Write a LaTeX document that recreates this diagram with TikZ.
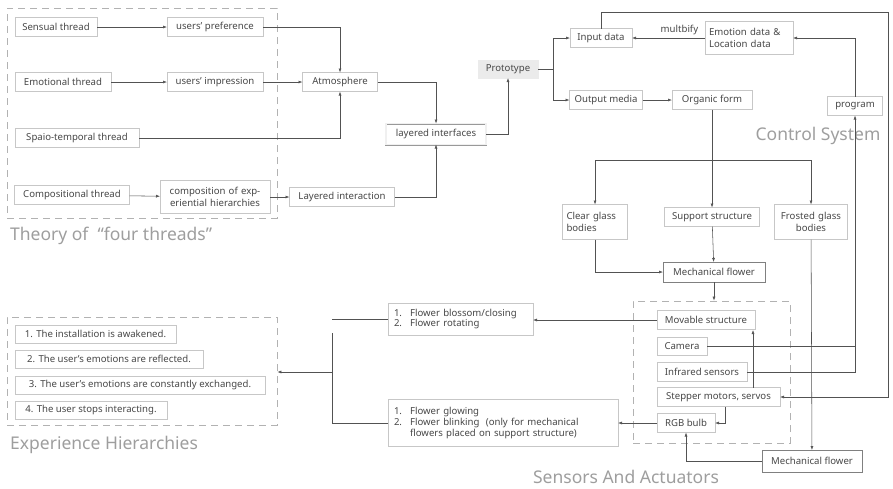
\documentclass[tikz,border=0pt]{standalone}
\usepackage{fontspec}
\setmainfont{Noto Sans}
\usetikzlibrary{arrows.meta}

\begin{document}
\begin{tikzpicture}[
  x = 1pt, y = -1pt,
  box/.style = {
    shape = rectangle,
    draw = black!22,
    fill = white,
    text = black!72,
    font = \fontsize{9.6}{12}\selectfont,
    minimum height = 19pt,
    inner xsep = 4pt,
    inner ysep = 2pt,
    outer sep = 0pt,
  },
  darkbox/.style = {box, draw = black!50},
  group/.style = {
    draw = black!30,
    dash pattern = on 7pt off 5pt,
    line width = 0.8pt,
    inner sep = 0pt,
  },
  heading/.style = {
    text = black!38,
    font = \fontsize{17.5}{20}\selectfont,
    inner sep = 0pt,
  }
]
  \useasboundingbox (0, 0) rectangle (893, 488);

  % dashed groups
  \node[group, minimum width = 270pt, minimum height = 210pt] (threads) at (142, 113) {};
  \node[group, minimum width = 157pt, minimum height = 142pt] (sensors) at (711.5, 372) {};
  \node[group, minimum width = 270pt, minimum height = 108pt] (levels) at (142, 371) {};

  \node[heading, anchor = west] (tthreads) at (10, 236) {Theory of\hspace{9pt}“four threads”};
  \node[heading] (tcontrol) at (818, 136) {Control System};
  \node[heading, anchor = west] (tlevels) at (10, 445) {Experience Hierarchies};
  \node[heading] (tsensors) at (626, 477) {Sensors And Actuators};

  % four threads
  \node[box, minimum width = 82pt] (sensual) at (56, 27) {Sensual thread};
  \node[box, minimum width = 96pt] (pref) at (215, 27) {users' preference};
  \node[box, minimum width = 96pt] (emotional) at (63, 82) {Emotional thread};
  \node[box, minimum width = 96pt] (impr) at (215, 82) {users' impression};
  \node[box, minimum width = 75pt] (atmos) at (340, 82) {Atmosphere};
  \node[box, minimum width = 124pt] (spatio) at (77, 138) {Spaio-temporal thread};
  \node[box, minimum width = 115pt] (compos) at (72, 195) {Compositional thread};
  \node[box, text width = 102pt, minimum height = 33pt, align = center]
    (hier) at (215, 197) {composition of exp-\\eriential hierarchies};
  \node[box, minimum width = 105pt] (linter) at (342, 197) {Layered interaction};
  \node[box, minimum width = 100pt, minimum height = 21pt, draw = black!40,
    double = black!6, double distance = 1.2pt] (lface) at (436, 134) {layered interfaces};

  % control system
  \node[box, draw = black!8, fill = black!8, minimum width = 60pt, minimum height = 18pt]
    (proto) at (508, 69) {Prototype};
  \node[box, minimum width = 62pt] (input) at (601, 38) {Input data};
  \node[box, minimum width = 73pt] (output) at (606, 100) {Output media};
  \node[box, minimum width = 80pt] (organic) at (712, 100) {Organic form};
  \node[box, text width = 80pt, minimum height = 33pt, align = left]
    (edata) at (749, 38) {Emotion data \&\\Location data};
  \node[box, minimum width = 55pt] (prog) at (855, 106) {program};

  \node[box, text width = 57pt, minimum height = 35pt, align = left]
    (clear) at (595, 222) {Clear glass\\bodies};
  \node[box, minimum width = 95pt] (support) at (712, 217) {Support structure};
  \node[box, text width = 65pt, minimum height = 35pt, align = center]
    (frosted) at (811, 222) {Frosted glass\\bodies};
  \node[darkbox, minimum width = 102pt, minimum height = 20pt] (mflower) at (714, 272) {Mechanical flower};

  % sensors and actuators
  \node[box, minimum width = 98pt, anchor = west] (movable) at (657, 320) {Movable structure};
  \node[box, minimum width = 50pt, minimum height = 18pt, anchor = west] (camera) at (657, 346) {Camera};
  \node[box, minimum width = 90pt, anchor = west] (infra) at (657, 372) {Infrared sensors};
  \node[box, minimum width = 123pt, anchor = west] (stepper) at (657, 397) {Stepper motors, servos};
  \node[box, minimum width = 58pt, anchor = west] (rgb) at (657, 423) {RGB bulb};
  \node[darkbox, minimum width = 100pt, minimum height = 22pt] (mflower2) at (812, 461) {Mechanical flower};

  \node[box, text width = 137pt, minimum height = 32pt, anchor = west, align = left]
    (blossom) at (388, 319) {%
      \begin{tabular}{@{\hspace{2pt}}l@{\hspace{8pt}}l@{}}
        1. & Flower blossom/closing \\[-2pt]
        2. & Flower rotating
      \end{tabular}};
  \node[box, text width = 222pt, minimum height = 47pt, anchor = west, align = left]
    (glowing) at (388, 423) {%
      \begin{tabular}{@{\hspace{2pt}}l@{\hspace{8pt}}l@{}}
        1. & Flower glowing \\[-1pt]
        2. & Flower blinking\ \ (only for mechanical \\[-1pt]
           & flowers placed on support structure)
      \end{tabular}};

  % experience hierarchies
  \node[box, minimum width = 161pt, minimum height = 18pt, anchor = west] (lv1) at (15, 334) {1. The installation is awakened.};
  \node[box, minimum width = 188pt, minimum height = 18pt, anchor = west] (lv2) at (15, 359) {2. The user's emotions are reflected.};
  \node[box, minimum width = 250pt, minimum height = 18pt, anchor = west] (lv3) at (15, 385) {3. The user's emotions are constantly exchanged.};
  \node[box, minimum width = 152pt, minimum height = 18pt, anchor = west] (lv4) at (15, 410) {4. The user stops interacting.};

  % corners and joints of the connectors
  \coordinate (split) at (553, 69);
  \coordinate (loop) at (888, 12);
  \coordinate (fork) at (712, 160);
  \coordinate (lift) at (753, 330);
  \coordinate (drop) at (725, 407);
  \coordinate (jtop) at (332, 319);
  \coordinate (jvert) at (332, 333);
  \coordinate (jmid) at (332, 372);

  \begin{scope}[
    every path/.style = {draw = black!68, line width = 0.55pt},
    arr/.style = {-{Latex[length = 4pt, width = 3pt]}}
  ]
    \draw[arr] (sensual) -- (pref);
    \draw[arr] (emotional) -- (impr);
    \draw[arr] (impr) -- (atmos);
    \draw[arr] (pref) -| (atmos);
    \draw[arr] (spatio) -| (atmos);
    \draw[arr] (compos) -- (hier);
    \draw[arr] (hier) -- (linter);
    \draw[arr] (atmos) -| (lface);
    \draw[arr] (linter) -| (lface);
    \draw[arr] (lface) -| (proto);

    \draw (proto) -- (split);
    \draw[arr] (split) |- (input);
    \draw[arr] (split) |- (output);
    \draw[arr] (output) -- (organic);
    \draw[arr] (edata) -- node[pos = 0.35, above = 3pt, inner sep = 0pt, text = black!72,
      font = \fontsize{9.6}{12}\selectfont] (mult) {multbify} (input);
    \draw[arr] (prog) |- (edata);
    \draw[arr] (input.north) |- (loop) |- (stepper);

    \draw (organic) -- (fork);
    \draw[arr] (fork) -| (clear);
    \draw[arr] (fork) -- (support);
    \draw[arr] (fork) -| (frosted);
    \draw[arr] (clear) |- (mflower);
    \draw[arr] (support) -- (mflower);
    \draw[arr] (mflower) -- (mflower |- sensors.north);
    \draw[arr] (frosted) -- (mflower2);

    \draw (camera) -- (camera -| prog);
    \draw[arr] (infra) -| (prog);
    \draw[arr] (lift |- stepper.north) -- (lift);
    \draw[arr] (drop) |- (rgb);
    \draw[arr] (mflower2) -| (rgb);

    \draw[arr] (movable) -- (movable -| blossom.east);
    \draw[arr] (rgb) -- (glowing);
    \draw (blossom.west) -- (jtop);
    \draw (glowing.west) -| (jvert);
    \draw[arr] (jmid) -- (jmid -| levels.east);
  \end{scope}
\end{tikzpicture}
\end{document}
